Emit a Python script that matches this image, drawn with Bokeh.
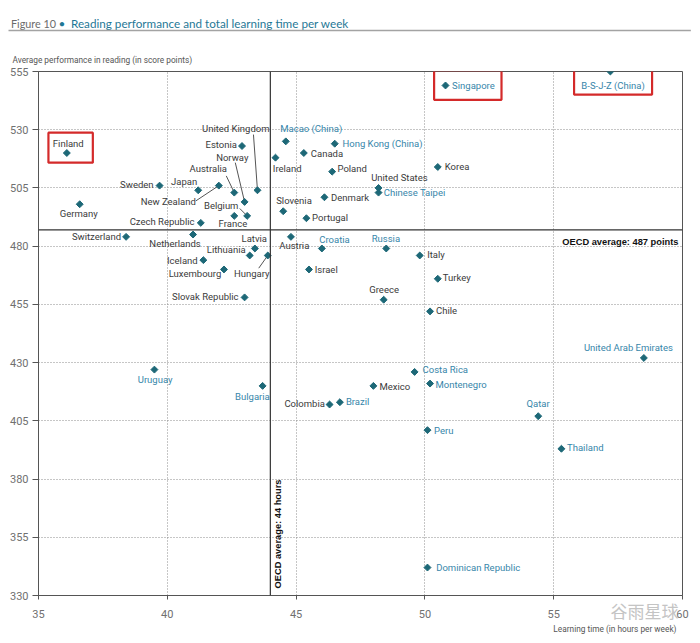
import numpy as np
from bokeh.plotting import figure
from bokeh.models import Range1d, FixedTicker, Span, Label, BoxAnnotation, ColumnDataSource, Title
from bokeh.core.properties import value
from bokeh.embed import file_html
from bokeh.resources import INLINE

# ---------------- data ----------------
countries = [
    "Finland", "Germany", "Sweden", "Switzerland", "Japan", "New Zealand", "Australia",
    "Norway", "United Kingdom", "Estonia", "Belgium", "France", "Czech Republic",
    "Netherlands", "Iceland", "Luxembourg", "Slovak Republic", "Latvia", "Lithuania",
    "Hungary", "Macao (China)", "Ireland", "Canada", "Hong Kong (China)", "Poland",
    "United States", "Chinese Taipei", "Denmark", "Slovenia", "Portugal", "Austria",
    "Croatia", "Russia", "Israel", "Greece", "Italy", "Singapore", "B-S-J-Z (China)",
    "Korea", "Turkey", "Chile", "United Arab Emirates", "Costa Rica", "Montenegro",
    "Mexico", "Colombia", "Brazil", "Qatar", "Peru", "Thailand", "Uruguay", "Bulgaria",
    "Dominican Republic",
]
hours = [
    36.1, 36.6, 39.7, 38.4, 41.2, 42.0, 42.6,
    43.0, 43.5, 42.9, 43.1, 42.6, 41.3,
    41.0, 41.4, 42.2, 43.0, 43.4, 43.2,
    43.9, 44.6, 44.2, 45.3, 46.5, 46.4,
    48.2, 48.2, 46.1, 44.5, 45.4, 44.8,
    46.0, 48.5, 45.5, 48.4, 49.8, 50.8, 57.2,
    50.5, 50.5, 50.2, 58.5, 49.6, 50.2,
    48.0, 46.3, 46.7, 54.4, 50.1, 55.3, 39.5, 43.7,
    50.1,
]
scores = [
    520, 498, 506, 484, 504, 506, 503,
    499, 504, 523, 493, 493, 490,
    485, 474, 470, 458, 479, 476,
    476, 525, 518, 520, 524, 512,
    505, 503, 501, 495, 492, 484,
    479, 479, 470, 457, 476, 549, 555,
    514, 466, 452, 432, 426, 421,
    420, 412, 413, 407, 401, 393, 427, 420,
    342,
]
partners = [
    "Macao (China)", "Hong Kong (China)", "Chinese Taipei", "Singapore", "B-S-J-Z (China)",
    "Croatia", "Russia", "Uruguay", "Bulgaria", "Brazil", "Costa Rica", "Montenegro",
    "United Arab Emirates", "Qatar", "Peru", "Thailand", "Dominican Republic",
]
highlighted = ["Finland", "Singapore", "B-S-J-Z (China)"]
x_ticks = [35, 40, 45, 50, 55, 60]
y_ticks = [330, 355, 380, 405, 430, 455, 480, 505, 530, 555]
oecd_avg_hours = 44
oecd_avg_score = 487

# ---------------- layout (screen-pixel offsets from each marker) ----------------
label_place = {
    "Finland": ("left", -14, -10), "Germany": ("center", -1, 9.5),
    "Sweden": ("right", -6, -1.5), "Switzerland": ("right", -5, 0),
    "Japan": ("right", -1, -8.3), "New Zealand": ("right", -23, 15.6),
    "Australia": ("center", -26, -24.4), "Norway": ("center", -12.3, -44.3),
    "United Kingdom": ("center", -21.7, -61.4), "Estonia": ("right", -5, -2),
    "Belgium": ("right", -8.7, -10), "France": ("center", -1.4, 8),
    "Czech Republic": ("right", -6.3, -1.7), "Netherlands": ("center", -18, 9),
    "Iceland": ("right", -5.7, 0), "Luxembourg": ("right", -2.7, 4.4),
    "Slovak Republic": ("right", -6, -1), "Latvia": ("center", -0.6, -10),
    "Lithuania": ("right", -4, -6.4), "Hungary": ("center", -16, 18.3),
    "Macao (China)": ("left", -5.6, -13.3), "Ireland": ("left", -2.7, 11.3),
    "Canada": ("left", 7, 0.4), "Hong Kong (China)": ("left", 7.7, -0.6),
    "Poland": ("left", 5.3, -2.7), "United States": ("left", -7.4, -10.6),
    "Chinese Taipei": ("left", 5.3, -0.3), "Denmark": ("left", 6.6, 0.3),
    "Slovenia": ("left", -7, -11), "Portugal": ("left", 5.7, -0.6),
    "Austria": ("left", -11.7, 9), "Croatia": ("left", -2.6, -8.7),
    "Russia": ("center", -0.4, -10), "Israel": ("left", 5.7, 0),
    "Greece": ("center", 0.4, -10), "Italy": ("left", 7.4, -1),
    "Singapore": ("left", 6.6, 0.4), "B-S-J-Z (China)": ("center", 2.7, 14),
    "Korea": ("left", 7, 0), "Turkey": ("left", 5, -1), "Chile": ("left", 6, -0.6),
    "United Arab Emirates": ("right", 29, -10.7), "Costa Rica": ("left", 8, -2),
    "Montenegro": ("left", 5.4, 1.3), "Mexico": ("left", 6, 0.3),
    "Colombia": ("right", -4.7, -0.6), "Brazil": ("left", 6, -0.3),
    "Qatar": ("center", -0.2, -12.4), "Peru": ("left", 6.6, 0.3),
    "Thailand": ("left", 5.6, -1), "Uruguay": ("center", 0.7, 10.3),
    "Bulgaria": ("center", -10.2, 10.7), "Dominican Republic": ("left", 8.7, 0),
}
leaders = {
    "New Zealand": (-23, 15.3), "Australia": (-8, -16.7), "Norway": (-9.3, -39.3),
    "United Kingdom": (-4, -55.7), "Belgium": (-7.4, -7.4), "Hungary": (-9, 12.7),
}
boxes = {
    "Finland": (3.8, -5.3, 44.4, 30), "Singapore": (22.3, -0.3, 67.4, 29.4),
    "B-S-J-Z (China)": (2.7, 8.7, 78, 28.7),
}

FRAME_W, FRAME_H = 644, 524
FRAME_LEFT, FRAME_TOP = 38, 71   # page position of the plot frame
X0, X1, Y0, Y1 = 35, 60, 330, 555
PXX = FRAME_W / (X1 - X0)
PXY = FRAME_H / (Y1 - Y0)


def px2x(px):
    return X0 + (px - FRAME_LEFT) / PXX


def px2y(py):
    return Y1 - (py - FRAME_TOP) / PXY


FONT = "Roboto"
DARK = "#3b3b3b"
TEAL_TXT = "#3786aa"
MARK = "#1d6877"

p = figure(frame_width=FRAME_W, frame_height=FRAME_H,
           x_range=Range1d(X0, X1), y_range=Range1d(Y0, Y1),
           output_backend="svg", toolbar_location=None,
           min_border_left=FRAME_LEFT, min_border_right=17, min_border_top=FRAME_TOP,
           min_border_bottom=47)
p.background_fill_color = "white"
p.border_fill_color = "white"
p.outline_line_color = "#555555"
p.outline_line_width = 1

for ax, ticks in ((p.xaxis, x_ticks), (p.yaxis, y_ticks)):
    ax.ticker = FixedTicker(ticks=ticks)
    ax.major_label_text_font = FONT
    ax.major_label_text_font_size = "11px"
    ax.major_label_text_color = "#707070"
    ax.axis_line_color = "#555555"
    ax.major_tick_line_color = "#555555"
    ax.minor_tick_line_color = None
    ax.major_tick_in = 0
p.yaxis.major_tick_out = 6
p.yaxis.major_label_standoff = 4
p.xaxis.major_tick_out = 4
p.xaxis.major_label_standoff = 10

# axis titles (titles live in the side panels, so they are not clipped)
p.add_layout(Title(text="Learning time (in hours per week)", align="right", offset=6,
                   text_font=FONT, text_font_size="8.3px", text_color="#555555",
                   text_font_style="normal", standoff=2), "below")
p.add_layout(Title(text="Average performance in reading (in score points)", align="left",
                   offset=-26, text_font=FONT, text_font_size="8.3px", text_color="#555555",
                   text_font_style="normal", standoff=14), "above")

# figure title: labels placed in the top panel
p.add_layout(Label(x=px2x(10.5), y=px2y(22.5), text="Figure 10", text_align="left",
                   text_baseline="middle", text_font="Lato", text_font_size="10.8px",
                   text_color="#6b6b6b"), "above")
p.add_layout(Label(x=px2x(61.5), y=px2y(22.5), text="\u2022", text_align="center",
                   text_baseline="middle", text_font="Lato", text_font_size="11.8px",
                   text_color="#1f7896"), "above")
p.add_layout(Label(x=px2x(70.5), y=px2y(22.5),
                   text="Reading performance and total learning time per week",
                   text_align="left", text_baseline="middle", text_font="Lato",
                   text_font_size="11.7px", text_color="#1f7896"), "above")
# title rule: an empty label whose padded background forms the thin grey rule
p.add_layout(Label(x=px2x(8), y=px2y(30), text=" ", text_align="left",
                   text_baseline="middle", text_font_size="1.3px", text_color="#a3a3a3",
                   padding=(341, 0), background_fill_color="#a3a3a3",
                   background_fill_alpha=1), "above")
p.add_layout(Label(x=px2x(644), y=px2y(610), text="谷雨星球", text_align="center",
                   text_baseline="middle", text_font="Noto Sans CJK SC",
                   text_font_size="17px", text_color="#c4c4c4"), "below")

p.grid.grid_line_color = "#8c8c8c"
p.grid.grid_line_dash = "1 2"
p.grid.grid_line_width = 1

p.add_layout(Span(location=oecd_avg_hours, dimension="height", line_color="#333333", line_width=1.2))
p.add_layout(Span(location=oecd_avg_score, dimension="width", line_color="#333333", line_width=1.2))

idx = {c: i for i, c in enumerate(countries)}

# leader lines
lx0, ly0, lx1, ly1 = [], [], [], []
for name, (dx, dy) in leaders.items():
    i = idx[name]
    lx0.append(hours[i]); ly0.append(scores[i])
    lx1.append(hours[i] + dx / PXX); ly1.append(scores[i] - dy / PXY)
p.segment(lx0, ly0, lx1, ly1, line_color="#555555", line_width=1)

# markers
src = ColumnDataSource(dict(hours=hours, scores=scores, name=countries))
p.scatter(x="hours", y="scores", source=src, marker="square", angle=np.pi / 4,
          size=4.9, fill_color=MARK, line_color=MARK)

# labels
groups = {}
for name in countries:
    align, dx, dy = label_place[name]
    i = idx[name]
    col = TEAL_TXT if name in partners else DARK
    g = groups.setdefault((align, col), dict(x=[], y=[], t=[]))
    g["x"].append(hours[i] + dx / PXX)
    g["y"].append(scores[i] - dy / PXY)
    g["t"].append(name)
for (align, col), g in groups.items():
    p.text(x=g["x"], y=g["y"], text=g["t"], text_align=align, text_baseline="middle",
           text_font=value(FONT), text_font_size="9.5px", text_color=col)

# highlight boxes
for name in highlighted:
    dx, dy, w, h = boxes[name]
    i = idx[name]
    cx = hours[i] + dx / PXX
    cy = scores[i] - dy / PXY
    p.add_layout(BoxAnnotation(left=cx - w / 2 / PXX, right=cx + w / 2 / PXX,
                               bottom=cy - h / 2 / PXY, top=cy + h / 2 / PXY,
                               fill_color=None, fill_alpha=0, line_alpha=1,
                               line_color="#d42a2a", line_width=2.2))

# average labels
p.add_layout(Label(x=X1 - 4 / PXX, y=oecd_avg_score - 12.3 / PXY,
                   text="OECD average: 487 points", text_align="right", text_baseline="middle",
                   text_font="Liberation Sans", text_font_style="bold", text_font_size="9.3px",
                   text_color="#111111"))
p.add_layout(Label(x=oecd_avg_hours + 8 / PXX, y=Y0 + 7 / PXY, angle=np.pi / 2,
                   text="OECD average: 44 hours", text_align="left", text_baseline="middle",
                   text_font="Liberation Sans", text_font_style="bold", text_font_size="9.3px",
                   text_color="#111111"))

open("out.html", "w").write(file_html(p, INLINE))
